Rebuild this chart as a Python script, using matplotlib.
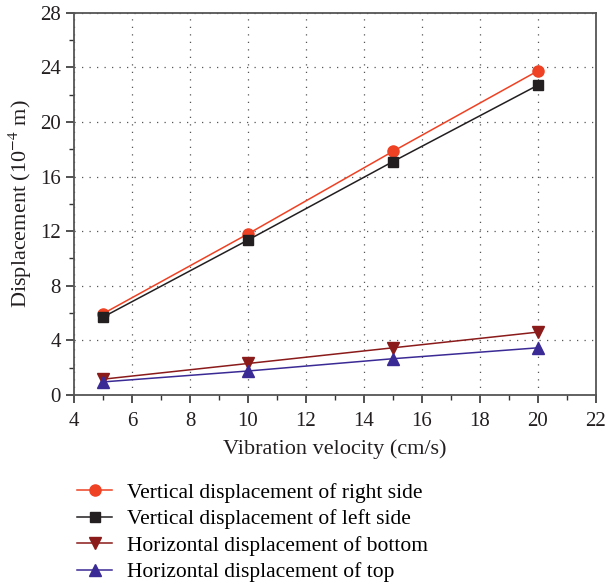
import matplotlib.pyplot as plt
from matplotlib.ticker import MultipleLocator

plt.rcParams['font.family'] = ['Liberation Serif', 'DejaVu Serif']
plt.rcParams['mathtext.fontset'] = 'stix'

# datos
velocidad = [5, 10, 15, 20]
vert_derecha = [5.95, 11.8, 17.85, 23.75]
vert_izquierda = [5.7, 11.35, 17.1, 22.7]
horiz_abajo = [1.15, 2.3, 3.45, 4.6]
horiz_arriba = [0.95, 1.75, 2.65, 3.45]

fig = plt.figure(figsize=(6.09, 5.85), dpi=100)
ax = fig.add_axes([0.1215, 0.325, 0.857, 0.653])

ax.plot(velocidad, vert_derecha, color='#EF4123', marker='o', ms=8, lw=1.1,
        label='Vertical displacement of right side')
ax.plot(velocidad, vert_izquierda, color='#231F20', marker='s', ms=7, lw=1.1,
        label='Vertical displacement of left side')
ax.plot(velocidad, horiz_abajo, color='#8B1A1A', marker='v', ms=9, lw=1.1,
        label='Horizontal displacement of bottom')
ax.plot(velocidad, horiz_arriba, color='#3A2A95', marker='^', ms=9, lw=1.1,
        label='Horizontal displacement of top')

ax.set_xlim(4, 22)
ax.set_ylim(0, 28)
ax.xaxis.set_major_locator(MultipleLocator(2))
ax.xaxis.set_minor_locator(MultipleLocator(1))
ax.yaxis.set_major_locator(MultipleLocator(4))
ax.yaxis.set_minor_locator(MultipleLocator(2))
ax.grid(True, which='major', ls=(0, (1, 5)), color='#555555', lw=0.9)
ax.tick_params(which='both', direction='out', top=False, right=False, labelsize=15,
               color='#333333', labelcolor='#231F20')
ax.tick_params(which='major', length=6, width=1.2)
ax.tick_params(which='minor', length=3.5, width=1.0)
ax.tick_params(axis='x', which='major', pad=6)
for s in ax.spines.values():
    s.set_color('#555555')
    s.set_linewidth(1.3)

ax.set_xlabel('Vibration velocity (cm/s)', fontsize=16, color='#231F20', labelpad=6)
ax.set_ylabel('Displacement (10$^{-4}$ m)', fontsize=16, color='#231F20', labelpad=4)

fig.legend(loc='upper left', bbox_to_anchor=(0.113, 0.19), frameon=False,
           fontsize=15.5, handlelength=1.6, labelspacing=0.3, handletextpad=0.7,
           borderaxespad=0)

fig.savefig('out.png', dpi=100)
